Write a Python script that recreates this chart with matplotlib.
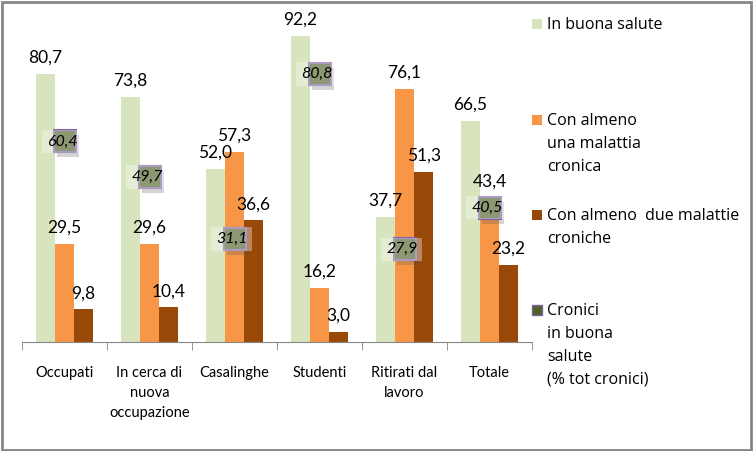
import numpy as np
import matplotlib.pyplot as plt
from matplotlib.patches import Rectangle
from matplotlib.transforms import offset_copy

plt.rcParams['font.family'] = ['Lato', 'DejaVu Sans']

# -----------------------------------
# DATA
# -----------------------------------
categories = ["Occupati", "In cerca di\nnuova\noccupazione", "Casalinghe",
              "Studenti", "Ritirati dal\nlavoro", "Totale"]
buona_salute = [80.7, 73.8, 52.0, 92.2, 37.7, 66.5]
una_malattia = [29.5, 29.6, 57.3, 16.2, 76.1, 43.4]
due_malattie = [9.8, 10.4, 36.6, 3.0, 51.3, 23.2]
cronici_buona = [60.4, 49.7, 31.1, 80.8, 27.9, 40.5]

legend_labels = ["In buona salute", "Con almeno\nuna malattia\ncronica",
                 "Con almeno  due malattie\ncroniche",
                 "Cronici\nin buona\nsalute\n(% tot cronici)"]

c_green = "#D7E4BD"
c_orange = "#F79646"
c_brown = "#984807"
c_olive = "#4F6228"
c_purple = "#8064A2"


def fmt(v):
    return f"{v:.1f}".replace(".", ",")


# -----------------------------------
# FIGURE
# -----------------------------------
fig = plt.figure(figsize=(7.53, 4.51), dpi=100)
ax = fig.add_axes([22 / 753, 1 - 342 / 451, 510 / 753, 332 / 451])

x = np.arange(len(categories))
w = 0.225

series = [(buona_salute, c_green, -w), (una_malattia, c_orange, 0), (due_malattie, c_brown, w)]
for vals, col, off in series:
    bars = ax.bar(x + off, vals, width=w, color=col, zorder=2)
    for b, v in zip(bars, vals):
        ax.annotate(fmt(v), (b.get_x() + b.get_width() / 2, v), xytext=(0, 6),
                    textcoords="offset points", ha="center", va="bottom",
                    fontsize=12.5, zorder=5)

# chronic in good health: markers with shadow
shadow_tr = offset_copy(ax.transData, fig=fig, x=3, y=-5, units="dots")
ax.plot(x, cronici_buona, "s", markersize=16, color="#555555", alpha=0.25,
        markeredgewidth=0, transform=shadow_tr, zorder=3)
ax.plot(x, cronici_buona, "s", markersize=15.5, markerfacecolor=c_olive,
        markeredgecolor=c_purple, markeredgewidth=1.5, linestyle="none", zorder=3)
for xi, v in zip(x, cronici_buona):
    ax.text(xi - 0.03, v, fmt(v), ha="center", va="center", fontsize=11.5,
            style="italic", zorder=4,
            bbox=dict(boxstyle="square,pad=0.3", facecolor="white",
                      edgecolor="none", alpha=0.35))

ax.set_xlim(-0.5, len(categories) - 0.5)
ax.set_ylim(0, 100)
ax.set_yticks([])
for s in ["left", "top", "right"]:
    ax.spines[s].set_visible(False)
ax.spines["bottom"].set_color("#868686")
ax.set_xticks(x)
ax.set_xticklabels(categories, fontsize=10.5, linespacing=1.55)
ax.tick_params(axis="x", which="major", length=0, pad=17)
ax.set_xticks(np.arange(len(categories) + 1) - 0.5, minor=True)
ax.tick_params(axis="x", which="minor", length=6, color="#868686")

# -----------------------------------
# LEGEND (drawn by hand, one text per line)
# -----------------------------------
leg_colors = [c_green, c_orange, c_brown, c_olive]
leg_base = [29, 125, 220, 315]
for lab, col, yb in zip(legend_labels, leg_colors, leg_base):
    ec = c_purple if col == c_olive else "none"
    fig.add_artist(Rectangle((532 / 753, 1 - yb / 451), 10 / 753, 10 / 451,
                             transform=fig.transFigure, facecolor=col,
                             edgecolor=ec, linewidth=1))
    for i, line in enumerate(lab.split("\n")):
        fig.text(547 / 753, 1 - (yb + 23 * i) / 451, line, ha="left",
                 va="baseline", fontsize=11.5, family=["Open Sans", "DejaVu Sans"])

# outer border
fig.add_artist(Rectangle((0.002, 0.003), 0.995, 0.993, transform=fig.transFigure,
                         fill=False, edgecolor="#868686", linewidth=2))

plt.savefig("out.png", dpi=100)
